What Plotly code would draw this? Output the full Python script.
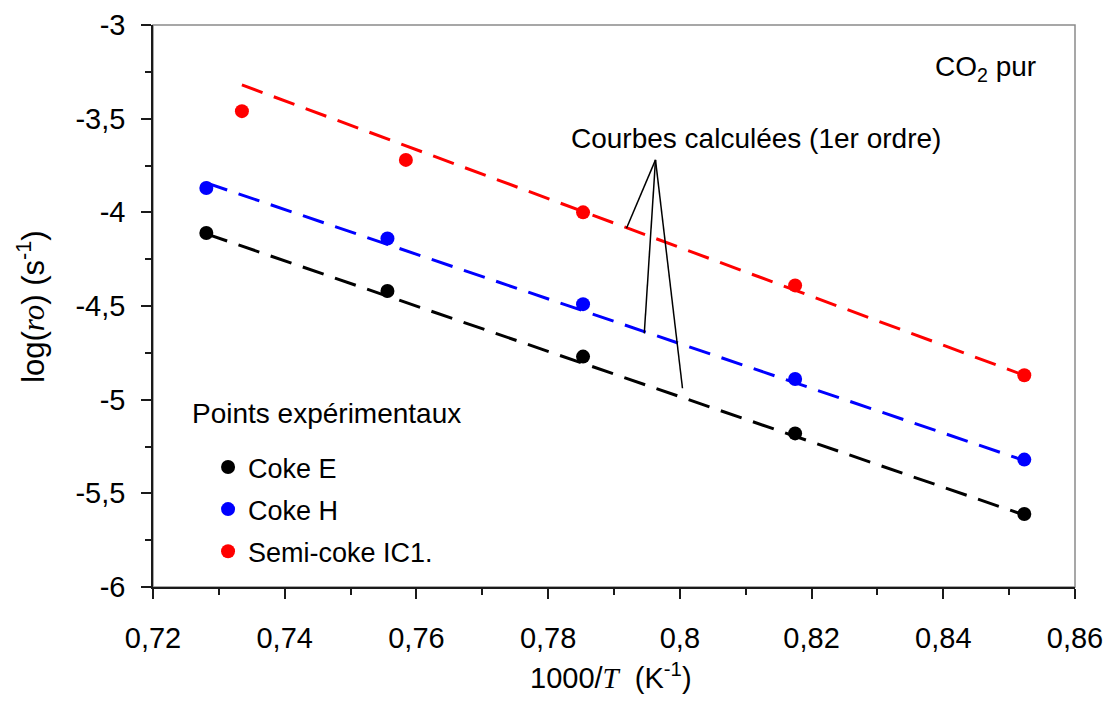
import plotly.graph_objects as go

# 1000/T (K^-1) of the experimental points
inv_t = [0.7281, 0.7556, 0.7853, 0.8175, 0.8523]
inv_t_ic1 = [0.7335, 0.7584, 0.7853, 0.8175, 0.8523]

# log(r0) measured
log_r_coke_e = [-4.11, -4.42, -4.77, -5.18, -5.61]
log_r_coke_h = [-3.87, -4.14, -4.49, -4.89, -5.32]
log_r_ic1 = [-3.46, -3.72, -4.00, -4.39, -4.87]

# calculated curves (1st order), end points
fit_x = [0.7281, 0.8523]
fit_x_ic1 = [0.7335, 0.8523]
fit_coke_e = [-4.115, -5.616]
fit_coke_h = [-3.843, -5.325]
fit_ic1 = [-3.32, -4.87]

x_ticks = [0.72, 0.74, 0.76, 0.78, 0.80, 0.82, 0.84, 0.86]
x_tick_labels = ["0,72", "0,74", "0,76", "0,78", "0,8", "0,82", "0,84", "0,86"]
x_minor = [0.73, 0.75, 0.77, 0.79, 0.81, 0.83, 0.85]
y_ticks = [-6, -5.5, -5, -4.5, -4, -3.5, -3]
y_tick_labels = ["-6", "-5,5", "-5", "-4,5", "-4", "-3,5", "-3"]
y_minor = [-5.75, -5.25, -4.75, -4.25, -3.75, -3.25]

FONT = "Arial, Liberation Sans, sans-serif"
dash = "22px,12px"

fig = go.Figure()

fig.add_trace(go.Scatter(x=fit_x, y=fit_coke_e, mode="lines", showlegend=False,
                         line=dict(color="black", width=3, dash=dash)))
fig.add_trace(go.Scatter(x=fit_x, y=fit_coke_h, mode="lines", showlegend=False,
                         line=dict(color="#0000ff", width=3, dash=dash)))
fig.add_trace(go.Scatter(x=fit_x_ic1, y=fit_ic1, mode="lines", showlegend=False,
                         line=dict(color="#ff0000", width=3, dash=dash)))

fig.add_trace(go.Scatter(x=inv_t, y=log_r_coke_e, mode="markers", name="Coke E",
                         legendgroup="e", marker=dict(color="black", size=14)))
fig.add_trace(go.Scatter(x=inv_t, y=log_r_coke_h, mode="markers", name="Coke H",
                         legendgroup="h", marker=dict(color="#0000ff", size=14)))
fig.add_trace(go.Scatter(x=inv_t_ic1, y=log_r_ic1, mode="markers", name="Semi-coke IC1.",
                         legendgroup="s", marker=dict(color="#ff0000", size=14)))

axis_style = dict(
    showgrid=False, zeroline=False, showline=True, linecolor="#1a1a1a", linewidth=1.5,
    ticks="outside", ticklen=10, tickwidth=1.5, tickcolor="#1a1a1a",
    tickfont=dict(family=FONT, size=29, color="black"),
    tickmode="array", ticklabeloverflow="allow", automargin=False,
)

fig.update_xaxes(range=[0.72, 0.86], tickvals=x_ticks, ticktext=x_tick_labels,
                 ticklabelstandoff=14,
                 minor=dict(tickvals=x_minor, ticks="outside", ticklen=6,
                            tickwidth=1.5, tickcolor="#1a1a1a"),
                 **axis_style)
fig.update_yaxes(range=[-6, -3], tickvals=y_ticks, ticktext=y_tick_labels,
                 ticklabelstandoff=10,
                 minor=dict(tickvals=y_minor, ticks="outside", ticklen=6,
                            tickwidth=1.5, tickcolor="#1a1a1a"),
                 **axis_style)

serif = "font-family:Liberation Serif, Times New Roman, serif"
annots = [
    dict(text='log(<i><span style="%s">ro</span></i>) (s<sup>-1</sup>)' % serif,
         x=-0.1325, y=0.5, textangle=-90, font=dict(size=31)),
    dict(text='1000/<i><span style="%s">T</span></i>  (K<sup>-1</sup>)' % serif,
         x=0.497, y=-0.158, font=dict(size=29)),
    dict(text="CO<sub>2</sub> pur", x=0.9028, y=0.923, font=dict(size=28)),
    dict(text="Courbes calculées (1er ordre)", x=0.6537, y=0.798, font=dict(size=28)),
    dict(text="Points expérimentaux", x=0.0401, y=0.3096, xanchor="left", font=dict(size=28)),
]
for a in annots:
    a.setdefault("xanchor", "center")
    a["font"] = dict(family=FONT, color="black", **a["font"])
    fig.add_annotation(xref="paper", yref="paper", showarrow=False, yanchor="middle", **a)

# leader lines from the label to the calculated curves
apex = (0.7963, -3.72)
for ex, ey in [(0.7919, -4.085), (0.7946, -4.646), (0.8004, -4.939)]:
    fig.add_shape(type="line", xref="x", yref="y", x0=apex[0], y0=apex[1], x1=ex, y1=ey,
                  line=dict(color="black", width=1.5))

# light frame on top / right
fig.add_shape(type="rect", xref="paper", yref="paper", x0=0, y0=0, x1=1, y1=1,
              line=dict(color="#8a8a8a", width=1.5), layer="below")

# page body adds 8px around the div, so the figure is a bit smaller than the window
fig.update_layout(
    width=1097, height=688,
    margin=dict(l=145, r=30, t=17, b=109, autoexpand=False),
    paper_bgcolor="white", plot_bgcolor="white",
    font=dict(family=FONT, color="black"),
    legend=dict(x=0.0597, y=0.2563, xanchor="left", yanchor="top",
                font=dict(family=FONT, size=27, color="black"),
                bgcolor="rgba(0,0,0,0)", traceorder="grouped", tracegroupgap=4),
)

fig.write_html("out.html")
